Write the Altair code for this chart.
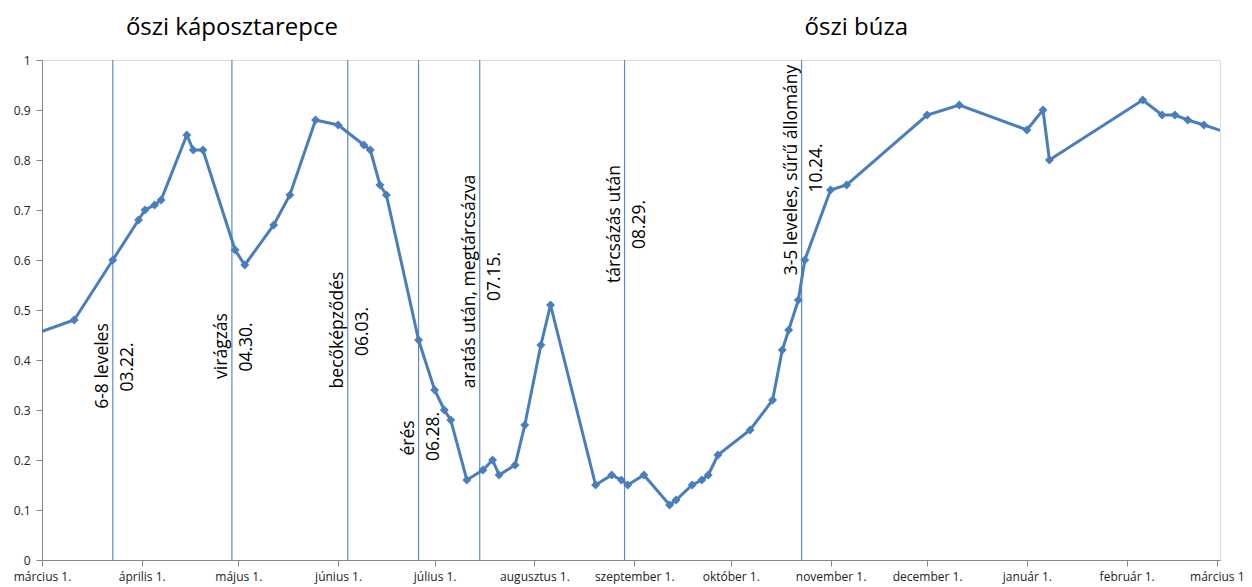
import altair as alt
import pandas as pd

# ---- data ----
dates = ["2010-02-20", "2010-03-11", "2010-03-23", "2010-03-31", "2010-04-02", "2010-04-05",
         "2010-04-07", "2010-04-15", "2010-04-17", "2010-04-20", "2010-04-30", "2010-05-03",
         "2010-05-12", "2010-05-17", "2010-05-25", "2010-06-01", "2010-06-09", "2010-06-11",
         "2010-06-14", "2010-06-16", "2010-06-26", "2010-07-01", "2010-07-04", "2010-07-06",
         "2010-07-11", "2010-07-16", "2010-07-19", "2010-07-21", "2010-07-26", "2010-07-29",
         "2010-08-03", "2010-08-06", "2010-08-20", "2010-08-25", "2010-08-28", "2010-08-30",
         "2010-09-04", "2010-09-12", "2010-09-14", "2010-09-19", "2010-09-22", "2010-09-24",
         "2010-09-27", "2010-10-07", "2010-10-14", "2010-10-17", "2010-10-19", "2010-10-22",
         "2010-10-24", "2010-11-01", "2010-11-06", "2010-12-01", "2010-12-11", "2011-01-01",
         "2011-01-06", "2011-01-08", "2011-02-06", "2011-02-12", "2011-02-16", "2011-02-20",
         "2011-02-25", "2011-03-08"]
values = [0.437, 0.48, 0.60, 0.68, 0.70, 0.71,
          0.72, 0.85, 0.82, 0.82, 0.62, 0.59,
          0.67, 0.73, 0.88, 0.87, 0.83, 0.82,
          0.75, 0.73, 0.44, 0.34, 0.30, 0.28,
          0.16, 0.18, 0.20, 0.17, 0.19, 0.27,
          0.43, 0.51, 0.15, 0.17, 0.16, 0.15,
          0.17, 0.11, 0.12, 0.15, 0.16, 0.17,
          0.21, 0.26, 0.32, 0.42, 0.46, 0.52,
          0.60, 0.74, 0.75, 0.89, 0.91, 0.86,
          0.90, 0.80, 0.92, 0.89, 0.89, 0.88,
          0.87, 0.847]

event_dates = ["2010-03-23", "2010-04-29", "2010-06-04", "2010-06-26", "2010-07-15",
               "2010-08-29", "2010-10-23"]
event_labels = ["6-8 leveles", "virágzás", "becőképződés", "érés",
                "aratás után, megtárcsázva", "tárcsázás után", "3-5 leveles, sűrű állomány"]
event_dates_text = ["03.22.", "04.30.", "06.03.", "06.28.", "07.15.", "08.29.", "10.24."]
label_y = [0.388, 0.428, 0.46, 0.244, 0.557, 0.672, 0.78]
date_y = [0.386, 0.426, 0.457, 0.247, 0.567, 0.671, 0.784]

titles = ["őszi káposztarepce", "őszi búza"]
title_dates = ["2010-04-29", "2010-11-09"]
title_y = [1.05, 1.05]

month_names = ["január 1.", "február 1.", "március 1.", "április 1.", "május 1.", "június 1.",
               "július 1.", "augusztus 1.", "szeptember 1.", "október 1.", "november 1.",
               "december 1."]

# ---- tables ----
df = pd.DataFrame({"date": dates, "value": values})
ev = pd.DataFrame({"date": event_dates, "label": event_labels, "dtext": event_dates_text,
                   "ly": label_y, "dy": date_y})
tt = pd.DataFrame({"date": title_dates, "text": titles, "y": title_y})

FONT = "Open Sans"
BLUE = "#4A7EBB"

tick_values = [alt.DateTime(year=2010 + (3 + i - 1) // 12, month=(3 + i - 1) % 12 + 1, date=1, utc=True)
               for i in range(13)]

xscale = alt.Scale(type="utc",
                   domain=[alt.DateTime(year=2010, month=3, date=1, utc=True),
                           alt.DateTime(year=2011, month=3, date=2, utc=True)])
yscale = alt.Scale(domain=[0, 1], nice=False, zero=True)

names_js = "[" + ",".join("'" + m + "'" for m in month_names) + "]"
label_expr = ("utcyear(datum.value) == 2011 && utcmonth(datum.value) == 2 ? 'március 1' : "
              + names_js + "[utcmonth(datum.value)]")

xaxis = alt.Axis(values=tick_values, labelExpr=label_expr, grid=False, title=None,
                 domainColor="#868686", tickColor="#868686", tickSize=6, labelPadding=5,
                 labelFont=FONT, labelFontSize=12, labelColor="#222222", labelFlush=False,
                 labelOverlap=False)
yaxis = alt.Axis(values=[i / 10 for i in range(11)], format="~g", grid=False, title=None,
                 domainColor="#868686", tickColor="#868686", tickSize=6, labelPadding=6,
                 labelFont=FONT, labelFontSize=12, labelColor="#222222")

base_x = alt.X("date:T", scale=xscale, axis=xaxis)

rules = alt.Chart(ev).mark_rule(color="#5F8BC6", strokeWidth=1.2).encode(
    x=alt.X("date:T", scale=xscale, axis=xaxis)
)

line = alt.Chart(df).mark_line(
    color=BLUE, strokeWidth=3, clip=True,
    point=alt.OverlayMarkDef(shape="diamond", size=80, filled=True, color=BLUE, clip=True)
).encode(
    x=base_x,
    y=alt.Y("value:Q", scale=yscale, axis=yaxis),
)

left_text = alt.Chart(ev).mark_text(
    angle=270, align="center", baseline="bottom", dy=-0.5, font=FONT, fontSize=17.5, color="#000000"
).encode(
    x=alt.X("date:T", scale=xscale),
    y=alt.Y("ly:Q", scale=yscale),
    text="label:N",
)

right_text = alt.Chart(ev).mark_text(
    angle=270, align="center", baseline="top", dy=6.5, font=FONT, fontSize=17.5, color="#000000"
).encode(
    x=alt.X("date:T", scale=xscale),
    y=alt.Y("dy:Q", scale=yscale),
    text="dtext:N",
)

title_text = alt.Chart(tt).mark_text(
    align="center", baseline="alphabetic", font=FONT, fontSize=24, color="#000000"
).encode(
    x=alt.X("date:T", scale=xscale),
    y=alt.Y("y:Q", scale=yscale),
    text="text:N",
)

chart = alt.layer(rules, line, left_text, right_text, title_text).properties(
    width=1178, height=500,
    padding={"left": 34, "top": 52, "right": 24, "bottom": 27},
    autosize=alt.AutoSizeParams(type="none"),
).configure_view(stroke=None).configure(background="white")

chart.save("out.html", embed_options={"renderer": "svg", "actions": False})
